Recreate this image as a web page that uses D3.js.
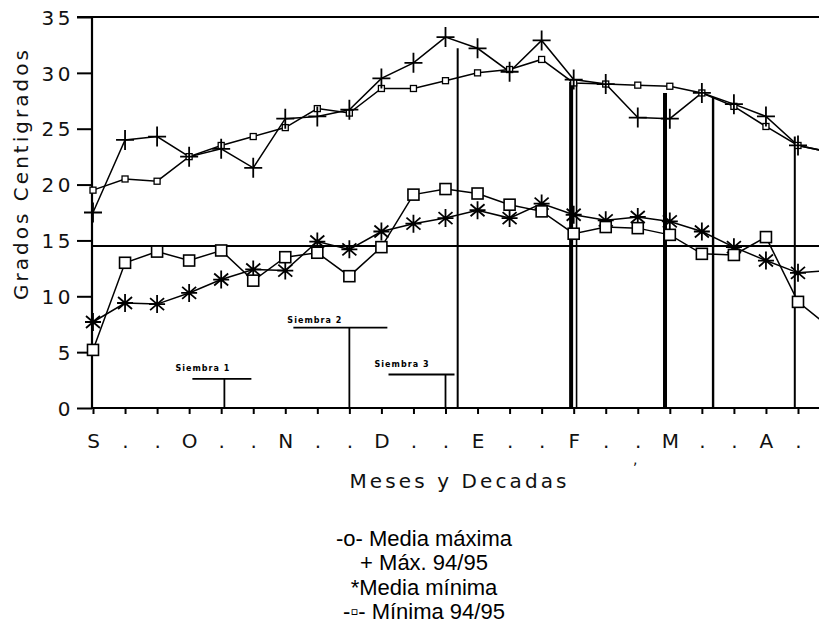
<!DOCTYPE html>
<html>
<head>
<meta charset="utf-8">
<script src="https://cdn.jsdelivr.net/npm/d3@7"></script>
<style>
  body { margin: 0; background: #fff; }
  svg { display: block; }
</style>
</head>
<body>
<svg id="chart" width="819" height="633"></svg>
<script>
// Decades from the 1st decade of September (index 0) onwards
const etiquetasDecada = ["S",".",".","O",".",".","N",".",".","D",".",".","E",".",".","F",".",".","M",".",".","A","."];
const ticksY = [0, 5, 10, 15, 20, 25, 30, 35];

// Temperatures (ºC) per decade
const mediaMaxima = [19.5, 20.5, 20.3, 22.5, 23.5, 24.3, 25.1, 26.8, 26.4, 28.6, 28.6, 29.3, 30.0, 30.3, 31.2, 29.1, 29.0, 28.9, 28.8, 28.2, 27.0, 25.2, 23.5, 22.9];
const maxima9495  = [17.5, 24.0, 24.3, 22.5, 23.2, 21.5, 25.9, 26.1, 26.7, 29.5, 30.9, 33.2, 32.2, 30.1, 32.9, 29.4, 29.0, 26.0, 25.9, 28.2, 27.2, 26.1, 23.5, 22.9];
const mediaMinima = [7.7, 9.4, 9.3, 10.3, 11.5, 12.4, 12.3, 14.9, 14.2, 15.8, 16.5, 17.0, 17.7, 17.0, 18.3, 17.3, 16.8, 17.1, 16.7, 15.8, 14.4, 13.2, 12.1, 12.3];
const minima9495  = [5.2, 13.0, 14.0, 13.2, 14.1, 11.4, 13.5, 13.9, 11.8, 14.4, 19.1, 19.6, 19.2, 18.2, 17.6, 15.6, 16.2, 16.1, 15.5, 13.8, 13.7, 15.3, 9.5, 7.2];
const umbral = 14.5;

// Vertical event marks: decade position and height (ºC)
const eventoDecada = [11.38, 14.92, 15.09, 17.85, 19.35, 21.9];
const eventoValor  = [32.2, 29.2, 29.0, 28.2, 27.8, 24.3];

// Sowing dates
const siembras      = ["Siembra 1", "Siembra 2", "Siembra 3"];
const siembraDecada = [4.1, 8, 11];
const siembraValor  = [2.6, 7.2, 3.0];

const leyenda = ["-o- Media máxima", "+ Máx. 94/95", "*Media mínima", "-\u25AB- Mínima 94/95"];

// ---------------------------------------------------------------
const W = 819, H = 633;
const svg = d3.select("#chart");

const x = d3.scaleLinear().domain([0, 22]).range([93, 798]);
const y = d3.scaleLinear().domain([0, 35]).range([408, 17]);
const right = W;

svg.append("defs").append("clipPath").attr("id", "plotClip")
  .append("rect").attr("x", 80).attr("y", 0).attr("width", right - 80).attr("height", 420);

const axisFont = "'DejaVu Sans', Verdana, sans-serif";

// Left axis
const gy = svg.append("g").attr("transform", "translate(92,0)")
  .call(d3.axisLeft(y).tickValues(ticksY).tickSize(15).tickSizeOuter(0).tickPadding(3));
gy.select(".domain").remove();
gy.selectAll(".tick line").attr("stroke", "#000").attr("stroke-width", 2);
gy.selectAll(".tick text")
  .attr("font-family", axisFont).attr("font-size", 20).attr("letter-spacing", 3.5)
  .attr("fill", "#111").attr("dy", "0.36em");

// Bottom axis
const gx = svg.append("g").attr("transform", "translate(0,408)")
  .call(d3.axisBottom(x).tickValues(d3.range(etiquetasDecada.length))
    .tickFormat((d, i) => etiquetasDecada[i]).tickSize(6).tickSizeOuter(0).tickPadding(20));
gx.select(".domain").remove();
gx.selectAll(".tick line").attr("stroke", "#000").attr("stroke-width", 2);
gx.selectAll(".tick text")
  .attr("font-family", axisFont).attr("font-size", 20).attr("fill", "#111");

// Frame lines
svg.append("line").attr("x1", 77).attr("x2", right).attr("y1", y(35)).attr("y2", y(35))
  .attr("stroke", "#000").attr("stroke-width", 2.2);
svg.append("line").attr("x1", 92).attr("x2", 92).attr("y1", y(35)).attr("y2", y(0))
  .attr("stroke", "#000").attr("stroke-width", 2.2);
svg.append("line").attr("x1", 92).attr("x2", right).attr("y1", y(0)).attr("y2", y(0))
  .attr("stroke", "#000").attr("stroke-width", 2.2);

// Axis titles
svg.append("text")
  .attr("transform", "translate(28,175) rotate(-90)")
  .attr("text-anchor", "middle")
  .attr("font-family", axisFont).attr("font-size", 20).attr("fill", "#111")
  .attr("textLength", 250).attr("lengthAdjust", "spacing")
  .text("Grados Centigrados");

svg.append("text")
  .attr("x", 458).attr("y", 488).attr("text-anchor", "middle")
  .attr("font-family", axisFont).attr("font-size", 20).attr("fill", "#111")
  .attr("textLength", 217).attr("lengthAdjust", "spacing")
  .text("Meses y Decadas");

svg.append("text").attr("x", 633).attr("y", 464)
  .attr("font-family", axisFont).attr("font-size", 14).attr("fill", "#111").text(",");

const plot = svg.append("g").attr("clip-path", "url(#plotClip)");

// Threshold line
plot.append("line").attr("x1", 92).attr("x2", right).attr("y1", y(umbral)).attr("y2", y(umbral))
  .attr("stroke", "#000").attr("stroke-width", 1.8);

// Vertical event marks
const eventoGrosor = [2, 4, 1.6, 4, 2.4, 2];
plot.selectAll(".evento").data(eventoDecada).join("line").attr("class", "evento")
  .attr("x1", d => x(d)).attr("x2", d => x(d))
  .attr("y1", y(0)).attr("y2", (d, i) => y(eventoValor[i]))
  .attr("stroke", "#000").attr("stroke-width", (d, i) => eventoGrosor[i]);

// Sowing markers
const siembraForma = [
  { izq: -32, der: 27, tx: -49, ty: -8 },
  { izq: -56, der: 38, tx: -62, ty: -5 },
  { izq: -57, der: 9,  tx: -71, ty: -7 }
];
siembras.forEach((s, i) => {
  const cx = x(siembraDecada[i]), cy = y(siembraValor[i]), f = siembraForma[i];
  const g = plot.append("g");
  g.append("line").attr("x1", cx).attr("x2", cx).attr("y1", y(0)).attr("y2", cy)
    .attr("stroke", "#000").attr("stroke-width", 1.8);
  g.append("line").attr("x1", cx + f.izq).attr("x2", cx + f.der).attr("y1", cy).attr("y2", cy)
    .attr("stroke", "#000").attr("stroke-width", 1.8);
  g.append("text").attr("x", cx + f.tx).attr("y", cy + f.ty)
    .attr("font-family", axisFont).attr("font-size", 8).attr("font-weight", "bold")
    .attr("textLength", 54).attr("lengthAdjust", "spacing")
    .attr("fill", "#000").text(s);
});

// Series lines
const linea = d3.line().x((d, i) => x(i)).y(d => y(d));
[mediaMaxima, maxima9495, mediaMinima, minima9495].forEach(serie => {
  plot.append("path").datum(serie).attr("d", linea)
    .attr("fill", "none").attr("stroke", "#000").attr("stroke-width", 1.5);
});

// Markers
plot.selectAll(".mMax").data(mediaMaxima).join("rect").attr("class", "mMax")
  .attr("x", (d, i) => x(i) - 3).attr("y", d => y(d) - 3)
  .attr("width", 6).attr("height", 6)
  .attr("fill", "#fff").attr("stroke", "#000").attr("stroke-width", 1.3);

plot.selectAll(".max").data(maxima9495).join("path").attr("class", "max")
  .attr("transform", (d, i) => `translate(${x(i)},${y(d)})`)
  .attr("d", "M-9,0H9M0,-10V10")
  .attr("fill", "none").attr("stroke", "#000").attr("stroke-width", 1.8);

plot.selectAll(".mMin").data(mediaMinima).join("path").attr("class", "mMin")
  .attr("transform", (d, i) => `translate(${x(i)},${y(d)})`)
  .attr("d", "M0,-9V9M-8,0H8M-7,-6L7,6M-7,6L7,-6")
  .attr("fill", "none").attr("stroke", "#000").attr("stroke-width", 1.8);

plot.selectAll(".min").data(minima9495).join("rect").attr("class", "min")
  .attr("x", (d, i) => x(i) - 5.5).attr("y", d => y(d) - 5.5)
  .attr("width", 11).attr("height", 11)
  .attr("fill", "#fff").attr("stroke", "#000").attr("stroke-width", 1.6);

// Legend
svg.append("g").selectAll("text").data(leyenda).join("text")
  .attr("x", 424).attr("y", (d, i) => 546 + i * 24.3)
  .attr("text-anchor", "middle")
  .attr("font-family", "'Liberation Sans', Arial, sans-serif").attr("font-size", 22)
  .attr("fill", "#000")
  .text(d => d);
</script>
</body>
</html>
